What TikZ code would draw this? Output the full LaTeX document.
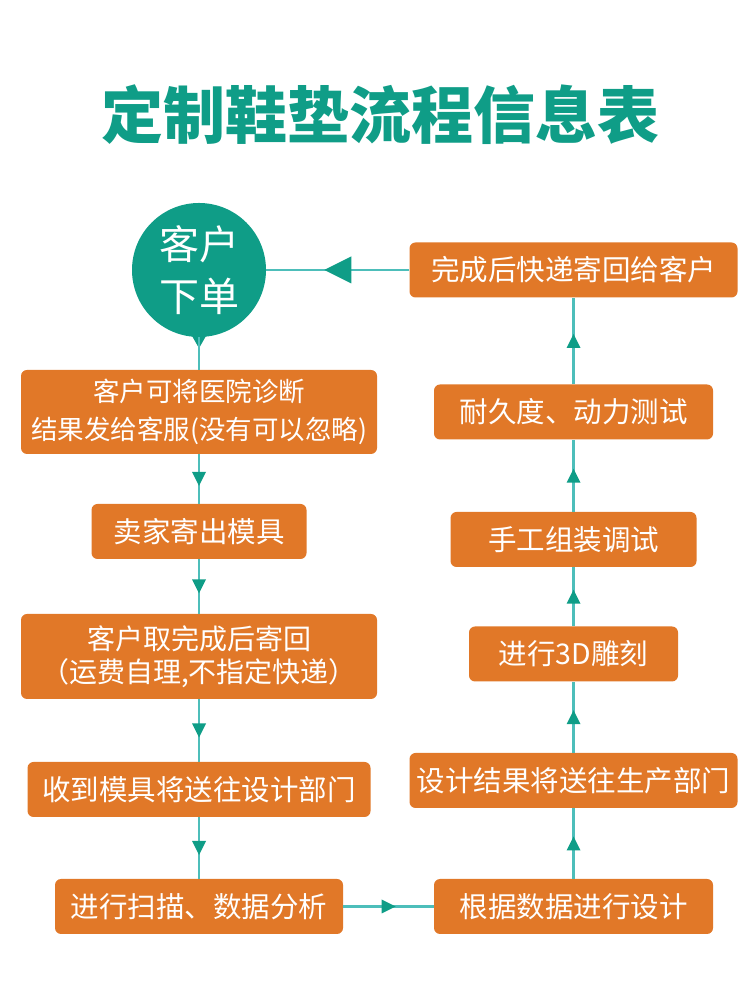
\documentclass[tikz,border=0pt]{standalone}
\usepackage{fontspec}
\setmainfont{Noto Sans CJK SC}
\usetikzlibrary{shapes,arrows.meta,positioning,decorations.markings}
\definecolor{verde}{RGB}{15,157,135}
\definecolor{linea}{RGB}{77,190,186}
\definecolor{naranja}{RGB}{225,120,40}

\begin{document}
\begin{tikzpicture}[x=1pt, y=1pt, node distance=120pt,
    paso/.style={rectangle, rounded corners=6pt, fill=naranja, text=white, minimum height=55pt, inner sep=0pt, align=center, font=\fontsize{28.5}{36}\selectfont},
    flecha/.style={line width=2.5pt, linea, postaction={decorate}, decoration={markings, mark=at position 0.5 with {\fill[verde] (#1,0) -- (-#1,#1) -- (-#1,-#1) -- cycle;}}},
    flecha/.default=7]
            \useasboundingbox (0,0) rectangle (750,1000);

            % Titulo
            \node[text=verde, font=\fontsize{62}{62}\selectfont\bfseries] (titulo) at (380,885) {定制鞋垫流程信息表};

            % Columna izquierda
            \node[circle, fill=verde, text=white, minimum size=134pt, inner sep=0pt, align=center, font=\fontsize{40}{52}\selectfont] (pedido) at (199,730) {客户\\下单};
            \fill[verde] ([xshift=-8pt,yshift=3pt]pedido.south) -- ([xshift=8pt,yshift=3pt]pedido.south) -- ([yshift=-11pt]pedido.south) -- cycle;
            \node[paso, below of=pedido, node distance=142pt, minimum width=356pt, minimum height=84pt, font=\fontsize{26.5}{38}\selectfont] (informe) {客户可将医院诊断\\结果发给客服(没有可以忽略)};
            \node[paso, below of=informe, node distance=119.5pt, minimum width=215pt] (molde) {卖家寄出模具};
            \node[paso, below of=molde, node distance=125pt, minimum width=356pt, minimum height=85pt, font=\fontsize{28}{33}\selectfont] (devol) {客户取完成后寄回\\（运费自理,不指定快递）};
            \node[paso, below of=devol, node distance=133pt, minimum width=343pt] (recibo) {收到模具将送往设计部门};
            \node[paso, below of=recibo, node distance=117pt, minimum width=288pt] (escaneo) {进行扫描、数据分析};

            % Columna derecha
            \node[paso, right of=escaneo, node distance=374.5pt, minimum width=279pt] (diseno) {根据数据进行设计};
            \node[paso, above of=diseno, node distance=126pt, minimum width=328pt] (produc) {设计结果将送往生产部门};
            \node[paso, above of=produc, node distance=126.5pt, minimum width=209pt] (grabado) {进行3D雕刻};
            \node[paso, above of=grabado, node distance=114.5pt, minimum width=246pt] (montaje) {手工组装调试};
            \node[paso, above of=montaje, node distance=127.5pt, minimum width=279pt] (prueba) {耐久度、动力测试};
            \node[paso, above of=prueba, node distance=142pt, minimum width=328pt] (envio) {完成后快递寄回给客户};

            % Flechas
            \draw[line width=2.5pt, linea] (pedido.south) -- (informe);
            \draw[flecha] (informe) -- (molde);
            \draw[flecha] (molde) -- (devol);
            \draw[flecha] (devol) -- (recibo);
            \draw[flecha] (recibo) -- (escaneo);
            \draw[flecha] (escaneo) -- (diseno);
            \draw[flecha] (diseno) -- (produc);
            \draw[flecha] (produc) -- (grabado);
            \draw[flecha] (grabado) -- (montaje);
            \draw[flecha] (montaje) -- (prueba);
            \draw[flecha] (prueba) -- (envio);
            \draw[flecha=13.5] (envio) -- (pedido);
        \end{tikzpicture}
\end{document}
